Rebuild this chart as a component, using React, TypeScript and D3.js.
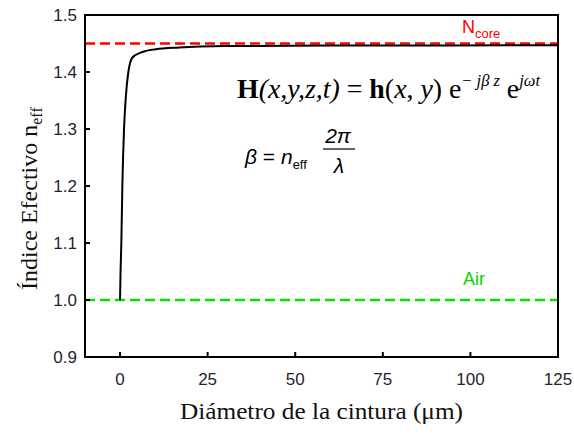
import React from "react";
import * as d3 from "d3";

const diameters = [0, 0.15, 0.37, 0.66, 1.14, 1.7, 2.37, 3.5, 5.9, 10.2, 16.9, 30, 60, 125];
const neff = [1.0, 1.05, 1.1, 1.2, 1.3, 1.36, 1.4, 1.425, 1.434, 1.44, 1.443, 1.4455, 1.4465, 1.4468];
const nCore = 1.45;
const nAir = 1.0;
const xTicks = [0, 25, 50, 75, 100, 125];
const yTicks = [0.9, 1.0, 1.1, 1.2, 1.3, 1.4, 1.5];

export default function App() {
  const W = 574, H = 434;
  const left = 85, right = 558, top = 15, bottom = 357;
  const x = d3.scaleLinear().domain([-10, 125]).range([left, right]);
  const y = d3.scaleLinear().domain([0.9, 1.5]).range([bottom, top]);
  const pts = diameters.map((d, i) => [d, neff[i]] as [number, number]);
  const line = d3.line<[number, number]>().x(d => x(d[0])).y(d => y(d[1])).curve(d3.curveMonotoneX);
  const sans = "'Liberation Sans', Arial, sans-serif";
  const serif = "'Liberation Serif', 'Times New Roman', serif";
  const tickColor = "#1f2433";
  return (
    <svg width={W} height={H} style={{ position: "absolute", left: 0, top: 0, background: "#fff" }}>
      <rect x={0} y={0} width={W} height={H} fill="#fff" />
      {/* reference lines */}
      <line x1={left} x2={right} y1={y(nCore)} y2={y(nCore)} stroke="#ff0000" strokeWidth={2.5} strokeDasharray="10,5" />
      <line x1={left} x2={right} y1={y(nAir)} y2={y(nAir)} stroke="#00e600" strokeWidth={2.5} strokeDasharray="10,5" />
      {/* curve */}
      <path d={line(pts) || ""} fill="none" stroke="#000" strokeWidth={2} />
      {/* frame */}
      <rect x={left} y={top} width={right - left} height={bottom - top} fill="none" stroke="#000" strokeWidth={2} />
      {/* y ticks */}
      {yTicks.map(t => (
        <g key={"y" + t}>
          <line x1={left} x2={left + 5} y1={y(t)} y2={y(t)} stroke="#000" strokeWidth={2} />
          <text x={left - 8} y={y(t)} dy="0.35em" textAnchor="end" fontFamily={sans} fontSize={17} fill={tickColor}>{t.toFixed(1)}</text>
        </g>
      ))}
      {/* x ticks */}
      {xTicks.map(t => (
        <g key={"x" + t}>
          <line x1={x(t)} x2={x(t)} y1={bottom} y2={bottom - 5} stroke="#000" strokeWidth={2} />
          <text x={x(t)} y={379} dy="0.35em" textAnchor="middle" fontFamily={sans} fontSize={17} fill={tickColor}>{t}</text>
        </g>
      ))}
      {/* axis labels */}
      <text x={180} y={419} textLength={283} lengthAdjust="spacingAndGlyphs" fontFamily={serif} fontSize={24} fill="#111">Diámetro de la cintura (μm)</text>
      <text transform={`translate(37,290) rotate(-90)`} fontFamily={serif} fontSize={24} fill="#111">
        Índice Efectivo n<tspan fontSize={16} dy={5}>eff</tspan>
      </text>
      {/* line labels */}
      <text x={462} y={33} fontFamily={sans} fontSize={18} fill="#ff0000">N<tspan fontSize={13} dy={5}>core</tspan></text>
      <text x={463} y={285} fontFamily={sans} fontSize={18} fill="#00d800">Air</text>
      {/* formula */}
      <text x={237} y={98} textLength={303} lengthAdjust="spacingAndGlyphs" fontFamily={serif} fontSize={27} fill="#000">
        <tspan fontWeight="bold">H</tspan>
        <tspan fontStyle="italic">(x,y,z,t)</tspan>
        <tspan> = </tspan>
        <tspan fontWeight="bold">h</tspan>
        <tspan>(</tspan><tspan fontStyle="italic">x</tspan><tspan>, </tspan><tspan fontStyle="italic">y</tspan><tspan>) e</tspan>
        <tspan fontSize={16} dy={-12} fontStyle="italic">{"\u2212 jβ z"}</tspan>
        <tspan dy={12}> e</tspan>
        <tspan fontSize={16} dy={-12} fontStyle="italic">jωt</tspan>
      </text>
      <text x={245} y={164} fontFamily={sans} fontSize={21} fill="#000">
        <tspan fontStyle="italic">β</tspan>
        <tspan> = </tspan>
        <tspan fontStyle="italic">n</tspan>
        <tspan fontSize={13} dy={5}>eff</tspan>
      </text>
      <text x={338} y={143} textAnchor="middle" fontFamily={sans} fontStyle="italic" fontSize={21} fill="#000">2π</text>
      <line x1={323} x2={355} y1={149} y2={149} stroke="#000" strokeWidth={1.2} />
      <text x={339} y={173} textAnchor="middle" fontFamily={sans} fontStyle="italic" fontSize={21} fill="#000">λ</text>
    </svg>
  );
}
